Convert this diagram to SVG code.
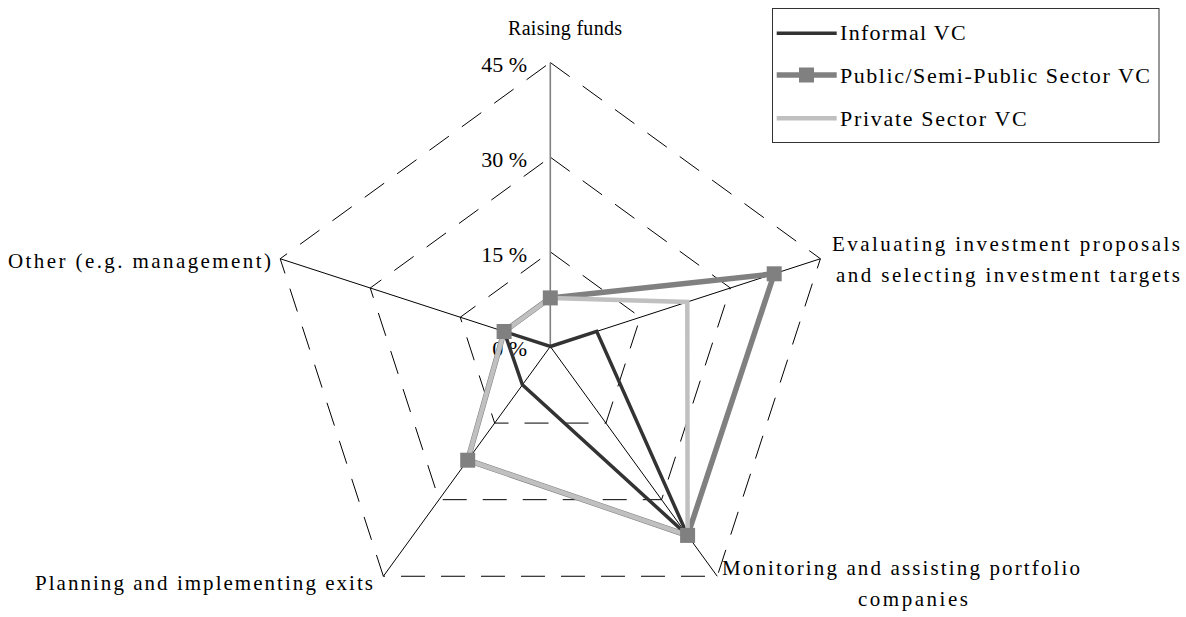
<svg xmlns="http://www.w3.org/2000/svg" width="1186" height="617" viewBox="0 0 1186 617">
<style>
text{font-family:"Liberation Serif","Times New Roman",serif;fill:#000}
.lbl{font-size:21px}
.tick{font-size:22px;text-anchor:end}
.grid{fill:none;stroke:#000;stroke-width:1;stroke-dasharray:24 16}
.spoke{stroke:#000;stroke-width:1}
.inf{fill:none;stroke:#333;stroke-width:3.5;stroke-linejoin:miter}
.pub{fill:none;stroke:#808080;stroke-width:5.5;stroke-linejoin:miter}
.pri{fill:none;stroke:#c0c0c0;stroke-width:4.5;stroke-linejoin:miter}
.mk{fill:#808080}
</style>
<rect width="1186" height="617" fill="#fff"/>
<g id="grid">
<polygon class="grid" points="550.3,251.83 640.34,317.25 605.95,423.09 494.65,423.09 460.26,317.25"/>
<polygon class="grid" points="550.3,157.17 730.37,288 661.59,499.67 439.01,499.67 370.23,288"/>
<polygon class="grid" points="550.3,62.5 820.41,258.74 717.24,576.26 383.36,576.26 280.19,258.74"/>
<line class="spoke" x1="550.3" y1="346.5" x2="820.41" y2="258.74"/>
<line class="spoke" x1="550.3" y1="346.5" x2="717.24" y2="576.26"/>
<line class="spoke" x1="550.3" y1="346.5" x2="383.36" y2="576.26"/>
<line class="spoke" x1="550.3" y1="346.5" x2="280.19" y2="258.74"/>
<line x1="550.3" y1="346.5" x2="550.3" y2="62.5" stroke="#808080" stroke-width="1.6"/>
</g>
<g id="ticks">
<text class="tick" x="527" y="356">0 %</text>
<text class="tick" x="527" y="261.5">15 %</text>
<text class="tick" x="527" y="167">30 %</text>
<text class="tick" x="527" y="72">45 %</text>
</g>
<g id="connectors">
<polygon id="series-informal" class="inf" points="550.3,346.5 596.7,331.4 687.6,535.4 522.4,384.8 504.1,331.5"/>
<polygon id="series-public" class="pub" points="550.3,297.9 774.2,273.8 687.6,535.4 467.7,460.2 504.1,331.5"/>
<polygon id="series-private" class="pri" points="550.3,297.9 687.3,302 687.6,535.4 467.7,460.2 504.1,331.5"/>
<g id="markers">
<rect class="mk" x="542.8" y="290.4" width="15" height="15"/>
<rect class="mk" x="766.7" y="266.3" width="15" height="15"/>
<rect class="mk" x="680.1" y="527.9" width="15" height="15"/>
<rect class="mk" x="460.2" y="452.7" width="15" height="15"/>
<rect class="mk" x="496.6" y="324" width="15" height="15"/>
</g>
</g>
<g id="node-raising">
<text class="lbl" x="508" y="35" style="font-size:20px" textLength="114" lengthAdjust="spacing">Raising funds</text>
</g>
<g id="node-evaluating">
<text class="lbl" x="832" y="251" textLength="348" lengthAdjust="spacing">Evaluating investment proposals</text>
<text class="lbl" x="836" y="282" textLength="344" lengthAdjust="spacing">and selecting investment targets</text>
</g>
<g id="node-monitoring">
<text class="lbl" x="722" y="575" textLength="358" lengthAdjust="spacing">Monitoring and assisting portfolio</text>
<text class="lbl" x="858" y="606" textLength="110" lengthAdjust="spacing">companies</text>
</g>
<g id="node-planning">
<text class="lbl" x="35" y="590" textLength="338" lengthAdjust="spacing">Planning and implementing exits</text>
</g>
<g id="node-other">
<text class="lbl" x="8" y="268" textLength="263" lengthAdjust="spacing">Other (e.g. management)</text>
</g>
<g id="legend">
<rect x="772.5" y="8.5" width="386.5" height="134" fill="#fff" stroke="#333" stroke-width="1"/>
<line x1="776.7" y1="33.3" x2="836.7" y2="33.3" stroke="#333" stroke-width="3.5"/>
<line x1="776.7" y1="75" x2="836.7" y2="75" stroke="#808080" stroke-width="5.5"/>
<rect class="mk" x="799" y="67.5" width="15" height="15"/>
<line x1="776.7" y1="118.3" x2="836.7" y2="118.3" stroke="#c0c0c0" stroke-width="4.5"/>
<text class="lbl" x="840" y="40" style="font-size:22px" textLength="125.7" lengthAdjust="spacing">Informal VC</text>
<text class="lbl" x="840" y="82.5" style="font-size:22px" textLength="310" lengthAdjust="spacing">Public/Semi-Public Sector VC</text>
<text class="lbl" x="840" y="125.5" style="font-size:22px" textLength="186.7" lengthAdjust="spacing">Private Sector VC</text>
</g>
</svg>
